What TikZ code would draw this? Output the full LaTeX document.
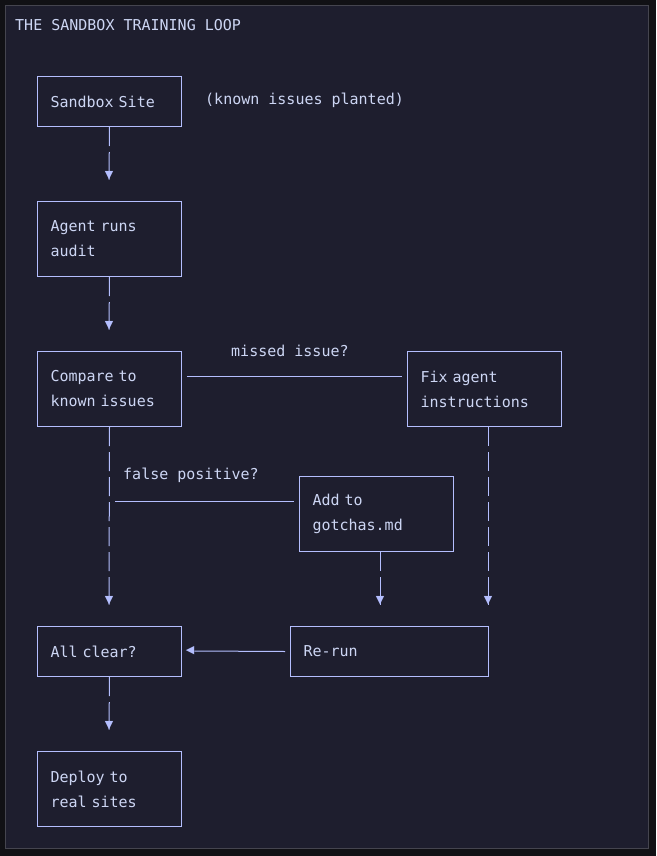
\documentclass[tikz,border=0pt]{standalone}
\usepackage{fontspec}
\setmonofont{DejaVu Sans Mono}
\newfontfamily\symfont{DejaVu Sans}
\usetikzlibrary{positioning}
\definecolor{panel}{HTML}{1E1E2E}
\definecolor{outer}{HTML}{111115}
\definecolor{ink}{HTML}{CDD6F4}
\definecolor{wire}{HTML}{B4BEFE}
\tikzset{
  box/.style={draw=wire, line width=1pt, anchor=north west, align=left,
    inner xsep=13pt, inner ysep=0pt, font=\ttfamily\fontsize{15}{25}\selectfont,
    text=ink},
  lbl/.style={anchor=west, inner sep=0pt, text=ink, font=\ttfamily\fontsize{15}{25}\selectfont},
  wirec/.style={draw=wire, line width=1pt},
  dashv/.style={wirec, dash pattern=on 19pt off 6pt},
  tip/.style={inner sep=0pt, text=wire, font=\symfont\fontsize{11}{11}\selectfont}
}
\begin{document}
\begin{tikzpicture}[x=1pt,y=-1pt]
        \fill[outer] (0,0) rectangle (656,856);
        \fill[panel] (5,5) rectangle (648,848);
        \draw[gray!40!panel] (5,5) rectangle (648,848);
        \useasboundingbox (0,0) rectangle (656,856);
        
        %title
        \node[lbl] (title) at (15,25) {THE SANDBOX TRAINING LOOP};
        
        %boxes
        \node[box, text width=118pt, minimum height=50pt] (site) at (37,76) {Sandbox Site};
        \node[lbl] (planted) at (205,100) {(known issues planted)};
        \node[box, text width=118pt, minimum height=75pt] (audit) at (37,201) {Agent runs\\audit};
        \node[box, text width=118pt, minimum height=75pt] (compare) at (37,351) {Compare to\\known issues};
        \node[box, text width=128pt, minimum height=75pt] (fix) at (407,351) {Fix agent\\instructions};
        \node[box, text width=128pt, minimum height=75pt] (gotchas) at (299,476) {Add to\\gotchas.md};
        \node[box, text width=118pt, minimum height=50pt] (clear) at (37,626) {All clear?};
        \node[box, text width=172pt, minimum height=50pt] (rerun) at (290,626) {Re-run};
        \node[box, text width=118pt, minimum height=75pt] (deploy) at (37,751) {Deploy to\\real sites};
        
        %arrow tips
        \node[tip] (t1) at (109,176) {▼};
        \node[tip] (t2) at (109,326) {▼};
        \node[tip] (t3) at (109,601) {▼};
        \node[tip] (t4) at (380,601) {▼};
        \node[tip] (t5) at (488,601) {▼};
        \node[tip] (t6) at (109,726) {▼};
        \node[tip] (t7) at (190,651) {◀};
        
        %connectors
        \coordinate (m1) at (187,376);
        \coordinate (m2) at (402,376);
        \coordinate (f1) at (115,501);
        \coordinate (f2) at (294,501);
        \draw[dashv] (site.south) -- ([yshift=-8pt]t1.north);
        \draw[dashv] (audit.south) -- ([yshift=-8pt]t2.north);
        \draw[dashv] (compare.south) -- ([yshift=-8pt]t3.north);
        \draw[dashv] (gotchas.south -| t4) -- ([yshift=-8pt]t4.north);
        \draw[dashv] (fix.south -| t5) -- ([yshift=-8pt]t5.north);
        \draw[dashv] (clear.south) -- ([yshift=-8pt]t6.north);
        \draw[wirec] (m1) -- (m2);
        \draw[wirec] (f1) -- (f2);
        \draw[wirec] ([xshift=-5pt]rerun.west) -- (t7.east);
        
        %labels
        \node[lbl] (missed) at (231,351) {missed issue?};
        \node[lbl] (falsepos) at (123,475) {false positive?};
        
    \end{tikzpicture}
\end{document}
